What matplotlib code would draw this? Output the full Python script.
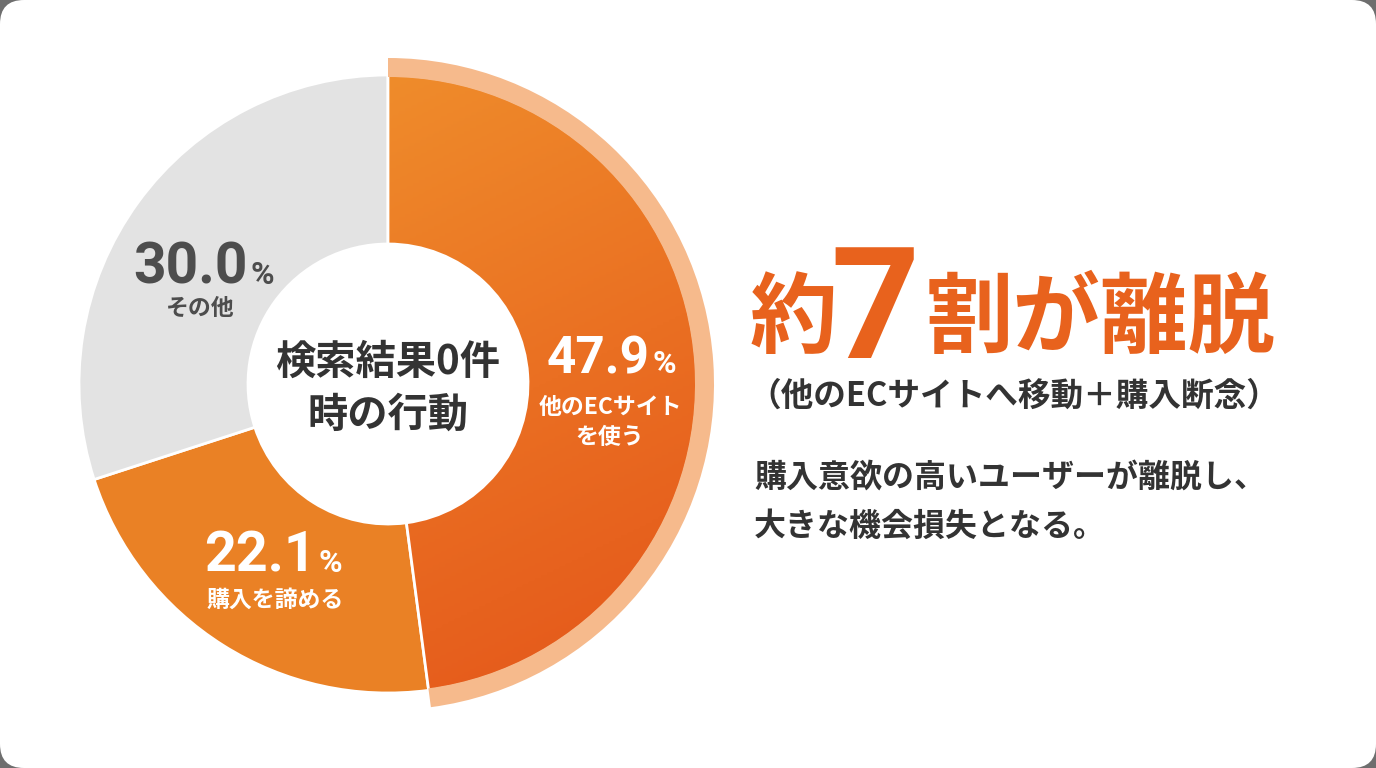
import numpy as np
import matplotlib
matplotlib.use('Agg')
import matplotlib.pyplot as plt
from matplotlib import font_manager
from matplotlib.patches import FancyBboxPatch, Wedge
from matplotlib.colors import LinearSegmentedColormap

plt.rcParams['font.family'] = ['Noto Sans CJK JP', 'DejaVu Sans']

# data
categories = [['他のECサイト', 'を使う'], ['購入を諦める'], ['その他']]
shares = [47.9, 22.1, 30.0]
center_title = ['検索結果0件', '時の行動']
headline = ['約', '7', '割が離脱']
headline_note = '（他のECサイトへ移動＋購入断念）'
body_lines = ['購入意欲の高いユーザーが離脱し、', '大きな機会損失となる。']

# styles / layout (image pixel coords, y down)
slice_colors = ['#EA6F22', '#EA8125', '#E3E3E3']
text_colors = ['white', 'white', '#4D4D4D']
# (split x between number and %, number baseline y, caption center x, first caption y, number size)
label_layout = [(650, 373, 610, 407, 45), (316, 572, 275, 600, 49), (248, 284, 200, 308, 50)]
W, H = 1376, 768
cx, cy = 388, 384
r_out, r_in = 309, 140
dark = '#333333'
orange = '#E8621D'

# the reference uses a condensed face for the big numbers
names = {f.name for f in font_manager.fontManager.ttflist}
if 'Liberation Sans Narrow' in names:
    num_font, num_scale, seven_size = ['Liberation Sans Narrow'], 1.0, 125
else:
    num_font, num_scale, seven_size = ['Roboto', 'DejaVu Sans'], 0.82, 112


def Y(y):
    return H - y


fig = plt.figure(figsize=(W / 100, H / 100), dpi=100, facecolor='#6E6E6E')
ax = fig.add_axes([0, 0, 1, 1])
ax.patch.set_visible(False)

card = FancyBboxPatch((0, 0), W, H, boxstyle='round,pad=0,rounding_size=24',
                      fc='white', ec='none', zorder=0)
ax.add_patch(card)

wedges, _ = ax.pie(shares, colors=slice_colors, radius=r_out, center=(cx, Y(cy)),
                   startangle=90, counterclock=False,
                   wedgeprops=dict(width=r_out - r_in, edgecolor='white', linewidth=2))

# gradient fill for the largest slice
w0 = wedges[0]
grad_cmap = LinearSegmentedColormap.from_list('og', ['#EF8C2B', '#EA6F22', '#E4551A'])
gx, gy = np.meshgrid(np.linspace(0, 1, 200), np.linspace(0, 1, 200))
grad = 0.8 * gy + 0.2 * gx
im = ax.imshow(grad, cmap=grad_cmap, origin='upper', zorder=1.5, aspect='auto',
               extent=(cx, cx + r_out, Y(cy + r_out), Y(cy - r_out)))
im.set_clip_path(w0)
w0.set_facecolor('none')
w0.set_zorder(2)

# highlight ring around the largest slice
ring = Wedge((cx, Y(cy)), r_out + 17, w0.theta1, w0.theta2, width=19,
             fc='#F6BA8C', ec='none', zorder=3)
ax.add_patch(ring)

# slice labels
for v, cap, col, (sx, by, capx, capy, nsz) in zip(shares, categories, text_colors, label_layout):
    ax.text(sx, Y(by), f'{v:.1f}', ha='right', va='baseline', fontsize=nsz * num_scale,
            fontweight='bold', color=col, family=num_font, zorder=5)
    ax.text(sx + 3, Y(by), '%', ha='left', va='baseline', fontsize=23,
            fontweight='bold', color=col, family=num_font, zorder=5)
    for i, line in enumerate(cap):
        ax.text(capx, Y(capy + 30 * i), line, ha='center', va='center', fontsize=16.5,
                fontweight='bold', color=col, zorder=5)

# center title
for i, line in enumerate(center_title):
    ax.text(cx, Y(362 + 53 * i), line, ha='center', va='center', fontsize=29,
            fontweight='bold', color=dark, zorder=5)

# right side text
ax.text(750, Y(321), headline[0], ha='left', va='center', fontsize=63,
        fontweight='bold', color=orange)
ax.text(875, Y(358), headline[1], ha='center', va='baseline', fontsize=seven_size,
        fontweight='bold', color=orange, family=num_font)
ax.text(926, Y(321), headline[2], ha='left', va='center', fontsize=63,
        fontweight='bold', color=orange)
ax.text(748, Y(396), headline_note, ha='left', va='center', fontsize=23.5,
        fontweight='bold', color=dark)
for i, line in enumerate(body_lines):
    ax.text(754, Y(478 + 49 * i), line, ha='left', va='center', fontsize=23,
            fontweight='bold', color=dark)

ax.set_xlim(0, W)
ax.set_ylim(0, H)
ax.set_aspect('auto')
ax.set_axis_off()

fig.savefig('out.png', dpi=100, facecolor=fig.get_facecolor())
